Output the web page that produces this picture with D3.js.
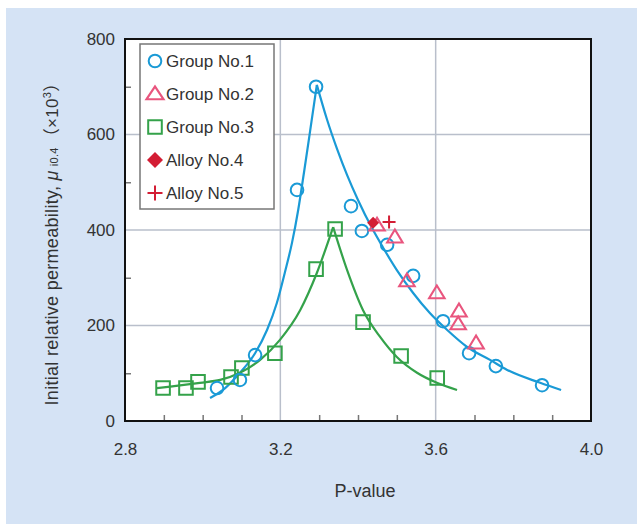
<!DOCTYPE html>
<html><head><meta charset="utf-8">
<script src="https://cdn.jsdelivr.net/npm/d3@7"></script>
<style>body{margin:0;background:#fff}svg{display:block}text{font-family:Arial,"Liberation Sans",Helvetica,sans-serif}</style>
</head><body><svg id="c" width="637" height="524"></svg>
<script>
// ---- data ----
const group1P = [3.037,3.096,3.135,3.243,3.292,3.382,3.410,3.475,3.542,3.619,3.686,3.755,3.874];
const group1V = [69,86,138,484,700,450,398,369,304,209,142,115,75];
const group2P = [3.449,3.495,3.526,3.603,3.660,3.658,3.704];
const group2V = [410,385,293,268,230,203,163];
const group3P = [2.898,2.957,2.988,3.073,3.101,3.186,3.292,3.341,3.413,3.511,3.604];
const group3V = [69,69,82,92,111,142,318,402,207,136,90];
const alloy4P = [3.439]; const alloy4V = [415];
const alloy5P = [3.480]; const alloy5V = [417];
// fitted curves
const blueLeftP  = [3.019,3.058,3.096,3.135,3.166,3.191,3.212,3.230,3.246,3.261,3.277,3.294];
const blueLeftV  = [48,69,101,142,191,247,312,373,442,521,609,704];
const blueRightP = [3.294,3.320,3.346,3.372,3.400,3.436,3.464,3.500,3.542,3.585,3.629,3.681,3.740,3.784,3.869,3.923];
const blueRightV = [704,632,570,515,463,404,364,316,268,226,191,155,128,107,80,65];
const greenLeftP  = [2.882,2.993,3.045,3.096,3.148,3.199,3.251,3.294,3.336];
const greenLeftV  = [69,80,86,101,128,170,232,310,406];
const greenRightP = [3.336,3.372,3.413,3.457,3.500,3.552,3.603,3.655];
const greenRightV = [406,316,232,176,134,101,80,65];
const xMajor = [2.8,3.2,3.6,4.0];
const xMinor = [2.9,3.0,3.1,3.3,3.4,3.5,3.7,3.8,3.9];
const yMajor = [0,200,400,600,800];
const yMinor = [100,300,500,700];
const xGrid = [3.2,3.6];
const yGrid = [200,400,600];
const legendLabels = ["Group No.1","Group No.2","Group No.3","Alloy No.4","Alloy No.5"];

// ---- drawing ----
const svg = d3.select("#c");
const L=125,R=591,T=39,B=421;
const x = d3.scaleLinear().domain([2.8,4.0]).range([L,R]);
const y = d3.scaleLinear().domain([0,800]).range([B,T]);
const BLUE="#1a9ad6", PINK="#e9557e", GREEN="#34a24a", RED="#d31d34";

svg.append("rect").attr("x",6).attr("y",8).attr("width",631).attr("height",516).attr("fill","#d5e3f5");
svg.append("rect").attr("x",L).attr("y",T).attr("width",R-L).attr("height",B-T).attr("fill","#fff");

const g = svg.append("g");
g.selectAll(".vg").data(xGrid).join("line").attr("x1",d=>x(d)).attr("x2",d=>x(d)).attr("y1",T).attr("y2",B).attr("stroke","#b9bfcb").attr("stroke-width",1.5);
g.selectAll(".hg").data(yGrid).join("line").attr("y1",d=>y(d)).attr("y2",d=>y(d)).attr("x1",L).attr("x2",R).attr("stroke","#b9bfcb").attr("stroke-width",1.5);

// minor ticks (inside)
const xm = svg.append("g").attr("transform",`translate(0,${B})`).call(d3.axisBottom(x).tickValues(xMinor).tickSize(-6).tickFormat(""));
xm.select(".domain").remove(); xm.selectAll("line").attr("stroke","#777").attr("stroke-width",1.5);
const ym = svg.append("g").attr("transform",`translate(${L},0)`).call(d3.axisLeft(y).tickValues(yMinor).tickSize(-6).tickFormat(""));
ym.select(".domain").remove(); ym.selectAll("line").attr("stroke","#777").attr("stroke-width",1.5);

// major labels
const xa = svg.append("g").attr("transform",`translate(0,${B})`).call(d3.axisBottom(x).tickValues(xMajor).tickSize(0).tickPadding(22).tickFormat(d3.format(".1f")));
xa.select(".domain").remove(); xa.selectAll("text").attr("font-size",17).attr("fill","#333");
const ya = svg.append("g").attr("transform",`translate(${L},0)`).call(d3.axisLeft(y).tickValues(yMajor).tickSize(0).tickPadding(10).tickFormat(d3.format("d")));
ya.select(".domain").remove(); ya.selectAll("text").attr("font-size",17).attr("fill","#333");

// curves
const zip=(P,V)=>P.map((p,i)=>[p,V[i]]);
const line = d3.line().x(d=>x(d[0])).y(d=>y(d[1])).curve(d3.curveMonotoneX);
[[blueLeftP,blueLeftV,BLUE],[blueRightP,blueRightV,BLUE],[greenLeftP,greenLeftV,GREEN],[greenRightP,greenRightV,GREEN]].forEach(([P,V,c])=>{
  svg.append("path").attr("d",line(zip(P,V))).attr("fill","none").attr("stroke",c).attr("stroke-width",2.2).attr("stroke-linejoin","round");
});

// markers
const sym = {
  circle: d3.symbol().type(d3.symbolCircle).size(125),
  tri: d3.symbol().type(d3.symbolTriangle).size(95),
  sq: d3.symbol().type(d3.symbolSquare).size(185)
};
function styleMarker(sel,kind,c,big){
  if(kind==="plus"){
    const h = big?7.5:6.5;
    sel.attr("d",`M${-h},0H${h}M0,${-h}V${h}`).attr("stroke",c).attr("stroke-width",2).attr("fill","none");
  } else if(kind==="dia"){
    const h = big?8:6;
    sel.attr("d",`M0,${-h}L${h},0L0,${h}L${-h},0Z`).attr("fill",c).attr("stroke","none");
  } else if(kind==="tri"){
    const s = big?1.15:1.05;
    sel.attr("d",sym.tri()).attr("fill","none").attr("stroke",c).attr("stroke-width",2)
      .attr("transform",function(){return d3.select(this).attr("transform")+` translate(0,1) scale(${s},1)`;});
  } else {
    sel.attr("d",sym[kind]()).attr("fill","none").attr("stroke",c).attr("stroke-width",2);
  }
}
function drawPts(P,V,kind,c){
  const sel = svg.append("g").selectAll("path").data(zip(P,V)).join("path")
    .attr("transform",d=>`translate(${x(d[0])},${y(d[1])})`);
  styleMarker(sel,kind,c,false);
}
drawPts(group3P,group3V,"sq",GREEN);
drawPts(group1P,group1V,"circle",BLUE);
drawPts(group2P,group2V,"tri",PINK);
drawPts(alloy4P,alloy4V,"dia",RED);
drawPts(alloy5P,alloy5V,"plus",RED);

// frame
svg.append("rect").attr("x",L).attr("y",T).attr("width",R-L).attr("height",B-T).attr("fill","none").attr("stroke","#111").attr("stroke-width",2);

// legend
const lg = svg.append("g");
lg.append("rect").attr("x",140).attr("y",44).attr("width",134).attr("height",165).attr("fill","#fff").attr("stroke","#777").attr("stroke-width",1.5);
const kinds=[["circle",BLUE],["tri",PINK],["sq",GREEN],["dia",RED],["plus",RED]];
legendLabels.forEach((t,i)=>{
  const yy = 61 + i*33;
  const m = lg.append("path").attr("transform",`translate(155,${yy})`);
  styleMarker(m,kinds[i][0],kinds[i][1],true);
  lg.append("text").attr("x",166).attr("y",yy).attr("dy","0.36em").attr("font-size",17).attr("fill","#333").text(t);
});

// axis titles
svg.append("text").attr("x",365).attr("y",497).attr("text-anchor","middle").attr("font-size",18).attr("fill","#333").text("P-value");
const yt = svg.append("text").attr("transform","translate(58,240) rotate(-90)").attr("text-anchor","middle").attr("font-size",18).attr("letter-spacing",0.3).attr("fill","#333");
yt.append("tspan").text("Initial relative permeability, ");
yt.append("tspan").attr("font-style","italic").text("μ");
yt.append("tspan").attr("font-size",11).attr("dx",4).text("i0.4");
yt.append("tspan").attr("font-size",17).attr("dx",2).attr("font-family","'Noto Sans CJK JP',sans-serif").text("（");
yt.append("tspan").attr("font-size",17).text("×10");
yt.append("tspan").attr("font-size",11).attr("dy",-7).text("3");
yt.append("tspan").attr("font-size",17).attr("dy",7).attr("font-family","'Noto Sans CJK JP',sans-serif").text("）");
</script></body></html>
